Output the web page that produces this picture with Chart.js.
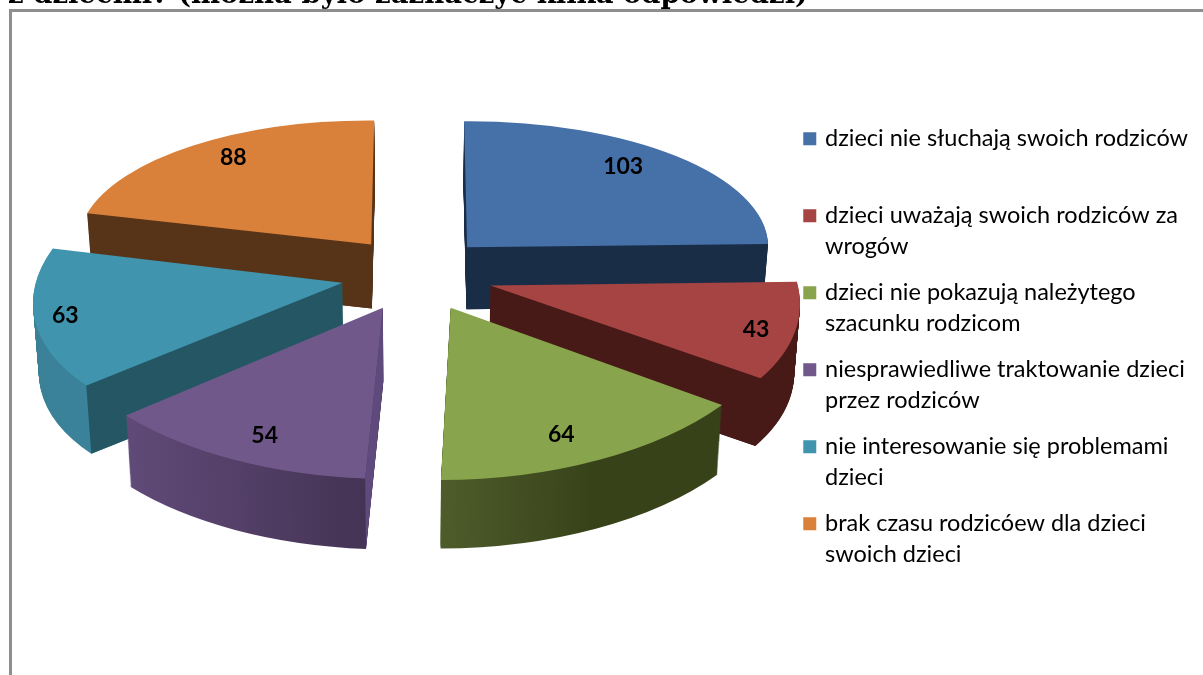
<!DOCTYPE html>
<html lang="pl"><head><meta charset="utf-8">
<style>
html,body{margin:0;padding:0;background:#fff;width:1203px;height:675px;overflow:hidden}
#wrap{position:absolute;left:0;top:0;width:1203px;height:675px}
#frame{position:absolute;left:9px;top:9px;right:-5px;bottom:-5px;border-left:3px solid #8e8e8e;border-top:3px solid #8e8e8e;pointer-events:none}
#title{position:absolute;left:8px;top:-23px;font:bold 27.5px "DejaVu Serif",serif;color:#000;white-space:nowrap}
</style>
<script src="https://cdn.jsdelivr.net/npm/chart.js@4/dist/chart.umd.min.js"></script>
</head><body>
<div id="wrap">
<canvas id="c" width="1203" height="675"></canvas>
<div id="frame"></div>
<div id="title">z dziećmi? (można było zaznaczyć kilka odpowiedzi)</div>
</div>
<script>
const categories = [
  ["dzieci nie słuchają swoich rodziców",""],
  ["dzieci uważają swoich rodziców za","wrogów"],
  ["dzieci nie pokazują należytego","szacunku rodzicom"],
  ["niesprawiedliwe traktowanie dzieci","przez rodziców"],
  ["nie interesowanie się problemami","dzieci"],
  ["brak czasu rodzicóew dla dzieci","swoich dzieci"]
];
const values = [103,43,64,54,63,88];
const topColors = ["#4570A8","#A54442","#88A44C","#71588B","#4094AE","#D9803A"];
const rimColors = [["#1a2d46","#1a2d46"],["#471a18","#471a18"],["#4e5c2b","#384219"],["#604A78","#433252"],["#3A8198","#3C86A0"],["#573318","#573318"]];
const startWall = [null,null,null,"#5E4A7C","#245763","#573318"];
const endWall   = ["#1a2d46","#471a18",null,null,null,null];
const drawOrder = [0,5,4,1,3,2];

// per-slice explosion and perspective (style only)
const explodeX  = [67,74,71,86,80,79];
const sliceWide = [301,307,336,336,307,293];
const sliceSkew = [3,40,3,-5,-37,-3];
const sliceTall = [126,158,172,171,154,124];
const sliceTilt = [-2,-2,-7,6,-2,2];
const sliceDepth= [62,69,71,73,70,64];
const labelNudgeX = [-22,7,-15,9,-16,14];
const labelNudgeY = [-3,4,-3,-1,0,-3];
const cam = {cx:420, cy:274, explodeY:37.5, shrink:0.015, labelR:0.85};

function geom(el,i){
  const a=(el.startAngle+el.endAngle)/2, R=el.outerRadius;
  return {a, ax:cam.cx+explodeX[i]*Math.cos(a), ay:cam.cy+cam.explodeY*Math.sin(a),
          m:sliceWide[i]/R, s:sliceSkew[i]/R, t:sliceTall[i]/R, q:sliceTilt[i]/R, depth:sliceDepth[i]};
}
function apply(ctx,el,g,t){
  const k=1-cam.shrink*t;
  ctx.transform(g.m*k,g.q*k,g.s*k,g.t*k, g.ax+(cam.cx-g.ax)*cam.shrink*t, g.ay+g.depth*t);
  ctx.translate(-el.x,-el.y);
}
function drawArc(ctx,el,color){
  const p=Object.create(el);
  p.options={backgroundColor:color,borderColor:color,borderWidth:0,borderAlign:'center',borderJoinStyle:'round',borderRadius:0,borderDash:[],borderDashOffset:0,offset:0,spacing:0,angle:undefined,circular:true};
  Chart.ArcElement.prototype.draw.call(p,ctx);
}
const pie3d={
  id:'pie3d',
  beforeDatasetDraw(chart){
    const ctx=chart.ctx, els=chart.getDatasetMeta(0).data;
    drawOrder.forEach(i=>{
      const el=els[i], g=geom(el,i), R=el.outerRadius;
      const c0=Math.cos(el.startAngle), c1=Math.cos(el.endAngle);
      const lo=Math.min(c0,c1,0), hi=Math.max(c0,c1,0);
      const grad=ctx.createLinearGradient(el.x+R*lo,0,el.x+R*hi,0);
      grad.addColorStop(0,rimColors[i][0]);
      grad.addColorStop(i===2?0.55:1,rimColors[i][1]);
      grad.addColorStop(1,rimColors[i][1]);
      for(let d=g.depth;d>=1;d--){
        ctx.save(); apply(ctx,el,g,d/g.depth); drawArc(ctx,el,grad); ctx.restore();
      }
      [[el.startAngle,startWall[i]],[el.endAngle,endWall[i]]].forEach(([ang,col])=>{
        if(!col) return;
        const ux=Math.cos(ang), uy=Math.sin(ang);
        const ex=R*(g.m*ux+g.s*uy), ey=R*(g.t*uy+g.q*ux);
        const k=1-cam.shrink, bx=g.ax+(cam.cx-g.ax)*cam.shrink, by=g.ay+g.depth;
        ctx.save(); ctx.fillStyle=col; ctx.beginPath();
        ctx.moveTo(g.ax,g.ay); ctx.lineTo(g.ax+ex,g.ay+ey);
        ctx.lineTo(bx+ex*k,by+ey*k); ctx.lineTo(bx,by);
        ctx.closePath(); ctx.fill(); ctx.restore();
      });
      ctx.save(); apply(ctx,el,g,0); drawArc(ctx,el,topColors[i]); ctx.restore();
    });
    ctx.save();
    ctx.font='bold 23px Lato'; ctx.fillStyle='#000'; ctx.textAlign='center'; ctx.textBaseline='middle';
    els.forEach((el,i)=>{
      const g=geom(el,i), R=el.outerRadius*cam.labelR;
      const ux=Math.cos(g.a), uy=Math.sin(g.a);
      ctx.fillText(String(values[i]), g.ax+R*(g.m*ux+g.s*uy)+labelNudgeX[i], g.ay+R*(g.t*uy+g.q*ux)+labelNudgeY[i]);
    });
    ctx.restore();
    return false;
  }
};
new Chart(document.getElementById('c'),{
  type:'pie',
  data:{labels:categories,datasets:[{data:values,backgroundColor:topColors,borderWidth:0}]},
  options:{
    responsive:false,animation:false,
    layout:{padding:{top:112,right:5}},
    events:[],
    plugins:{
      tooltip:{enabled:false},
      legend:{
        position:'right',align:'start',
        labels:{
          boxWidth:7,boxHeight:7,padding:15,color:'#1c1c1c',
          font:{family:'Lato',size:23.5,lineHeight:'31px'},
          generateLabels(chart){
            return categories.map((t,i)=>({text:t,fillStyle:topColors[i],strokeStyle:topColors[i],lineWidth:6,hidden:false,index:i}));
          }
        }
      }
    }
  },
  plugins:[pie3d]
});
</script>
</body></html>
